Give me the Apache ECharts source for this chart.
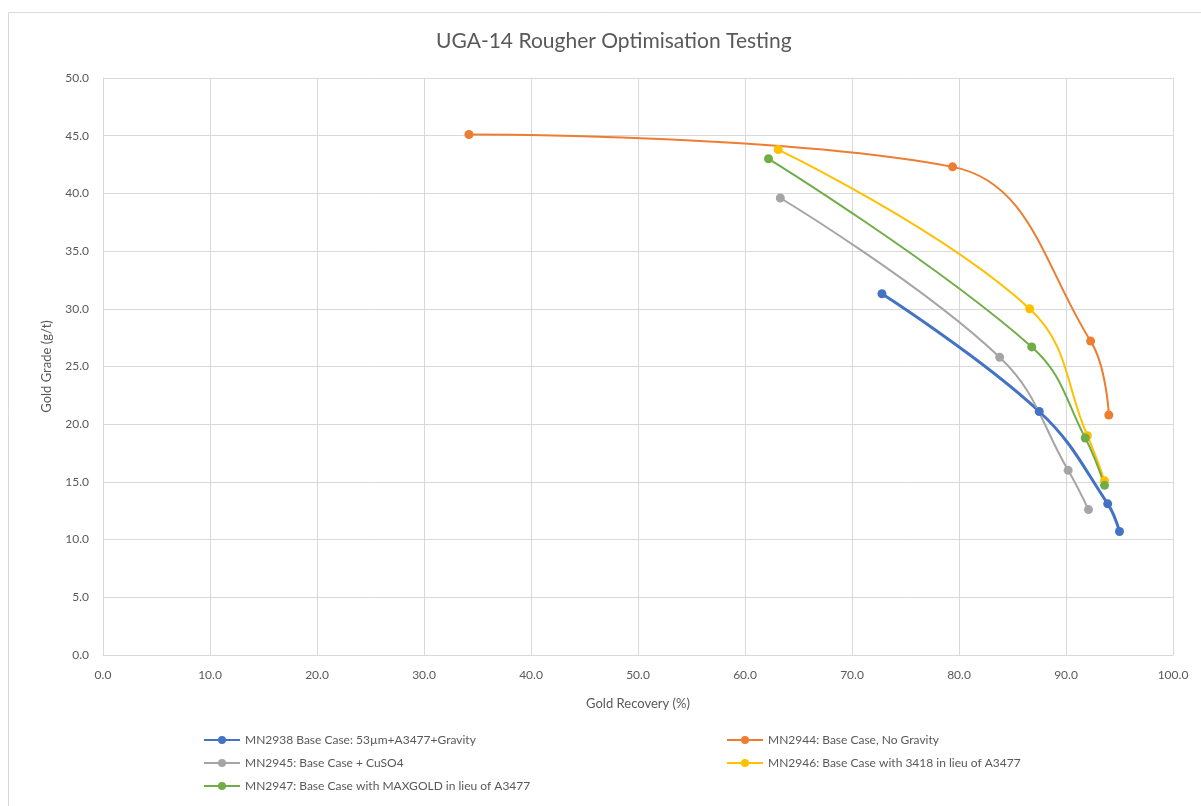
<!DOCTYPE html>
<html>
<head>
<meta charset="utf-8">
<title>UGA-14 Rougher Optimisation Testing</title>
<script src="https://cdn.jsdelivr.net/npm/echarts@6/dist/echarts.min.js"></script>
<style>
    html, body { margin: 0; padding: 0; background: #fff; }
    #chart { width: 1201px; height: 806px; }
</style>
</head>
<body>
<div id="chart"></div>
<script>
// series names
var seriesNames = [
    'MN2938 Base Case: 53µm+A3477+Gravity',
    'MN2944: Base Case, No Gravity',
    'MN2945: Base Case + CuSO4',
    'MN2946: Base Case with 3418 in lieu of A3477',
    'MN2947: Base Case with MAXGOLD in lieu of A3477'
];
var seriesColors = ['#4472C4', '#ED7D31', '#A5A5A5', '#FFC000', '#70AD47'];

// gold recovery (%) / gold grade (g/t) for each test
var mn2938Recovery = [72.8, 87.5, 93.9, 95.0];
var mn2938Grade = [31.3, 21.1, 13.1, 10.7];
var mn2944Recovery = [34.2, 79.4, 92.3, 94.0];
var mn2944Grade = [45.1, 42.3, 27.2, 20.8];
var mn2945Recovery = [63.3, 83.8, 90.2, 92.1];
var mn2945Grade = [39.6, 25.8, 16.0, 12.6];
var mn2946Recovery = [63.1, 86.6, 92.0, 93.6];
var mn2946Grade = [43.8, 30.0, 19.0, 15.1];
var mn2947Recovery = [62.2, 86.8, 91.8, 93.6];
var mn2947Grade = [43.0, 26.7, 18.8, 14.7];

var recoveries = [mn2938Recovery, mn2944Recovery, mn2945Recovery, mn2946Recovery, mn2947Recovery];
var grades = [mn2938Grade, mn2944Grade, mn2945Grade, mn2946Grade, mn2947Grade];

var fontFam = 'Lato, "Open Sans", sans-serif';

function pairs(xs, ys) {
    return xs.map(function (x, i) { return [x, ys[i]]; });
}

var series = seriesNames.map(function (name, i) {
    return {
        name: name,
        type: 'line',
        smooth: 0.4,
        symbol: 'circle',
        symbolSize: 9,
        data: pairs(recoveries[i], grades[i]),
        itemStyle: { color: seriesColors[i] },
        lineStyle: { color: seriesColors[i], width: i === 0 ? 3 : 2 }
    };
});

var legendBase = {
    orient: 'vertical',
    top: 729,
    itemGap: 11,
    itemWidth: 36,
    itemHeight: 10,
    textStyle: { fontFamily: fontFam, fontSize: 12, color: '#595959' }
};

var myChart = echarts.init(document.getElementById('chart'));
myChart.setOption({
    animation: false,
    title: {
        text: 'UGA-14 Rougher Optimisation Testing',
        left: 431,
        top: 26,
        textStyle: { fontFamily: fontFam, fontSize: 21, fontWeight: 'normal', color: '#595959' }
    },
    graphic: [{
        type: 'rect',
        shape: { x: 8.5, y: 12.5, width: 1300, height: 900 },
        style: { fill: 'none', stroke: '#d9d9d9', lineWidth: 1 },
        silent: true
    }],
    legend: [
        Object.assign({ data: [seriesNames[0], seriesNames[2], seriesNames[4]], left: 198 }, legendBase),
        Object.assign({ data: [seriesNames[1], seriesNames[3]], left: 721 }, legendBase)
    ],
    grid: { left: 103, right: 28, top: 78, bottom: 151, containLabel: false },
    xAxis: {
        type: 'value',
        min: 0,
        max: 100,
        interval: 10,
        name: 'Gold Recovery (%)',
        nameLocation: 'middle',
        nameGap: 42,
        nameTextStyle: { fontFamily: fontFam, fontSize: 13, color: '#595959' },
        axisLine: { show: true, lineStyle: { color: '#d9d9d9' } },
        axisTick: { show: false },
        axisLabel: {
            margin: 14,
            fontFamily: fontFam, fontSize: 12, color: '#595959',
            formatter: function (v) { return v.toFixed(1); }
        },
        splitLine: { show: true, lineStyle: { color: '#d9d9d9' } }
    },
    yAxis: {
        type: 'value',
        min: 0,
        max: 50,
        interval: 5,
        name: 'Gold Grade (g/t)',
        nameLocation: 'middle',
        nameGap: 50,
        nameTextStyle: { fontFamily: fontFam, fontSize: 13, color: '#595959' },
        axisLine: { show: true, lineStyle: { color: '#d9d9d9' } },
        axisTick: { show: false },
        axisLabel: {
            margin: 14,
            fontFamily: fontFam, fontSize: 12, color: '#595959',
            formatter: function (v) { return v.toFixed(1); }
        },
        splitLine: { show: true, lineStyle: { color: '#d9d9d9' } }
    },
    series: series
});
</script>
</body>
</html>
